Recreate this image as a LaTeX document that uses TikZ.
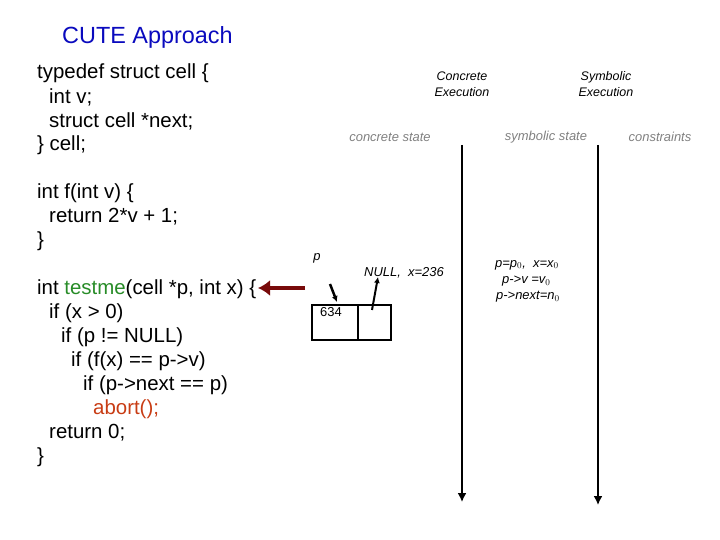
\documentclass[tikz,border=0pt]{standalone}
\usepackage{fontspec}
\setmainfont{Liberation Sans}
\usetikzlibrary{arrows.meta}
\definecolor{fnred}{RGB}{200,60,20}
\definecolor{fngreen}{RGB}{40,140,40}
\definecolor{arrred}{RGB}{120,10,10}
\definecolor{titleblue}{RGB}{10,10,190}
\begin{document}
\begin{tikzpicture}[x=1bp,y=-1bp,
    code/.style ={anchor=west, inner sep=0pt, font=\fontsize{20.5}{20}\selectfont},
    small/.style ={inner sep=0pt, font=\fontsize{13}{15}\selectfont\itshape, align=center},
    header/.style ={small, font=\fontsize{12.5}{16}\selectfont\itshape, align=center},
    state/.style ={small, gray},
    timeline/.style ={line width=1.6pt, -{Latex[length=9bp,width=9bp]}}]
   \useasboundingbox (0,0) rectangle (720,540);
   \node[anchor=west, inner sep=0pt, font=\fontsize{23.5}{23}\selectfont, titleblue] (title) at (62,37) {CUTE Approach};

   \node[code] (l1) at (37,73) {typedef struct cell \{};
   \node[code] (l2) at (49,97) {int v;};
   \node[code] (l3) at (49,121) {struct cell *next;};
   \node[code] (l4) at (37,145) {\} cell;};
   \node[code] (l5) at (37,193) {int f(int v) \{};
   \node[code] (l6) at (49,217) {return 2*v + 1;};
   \node[code] (l7) at (37,241) {\}};
   \node[code] (l8) at (37,289) {int \textcolor{fngreen}{testme}(cell *p, int x) \{};
   \node[code] (l9) at (49,313) {if (x > 0)};
   \node[code] (l10) at (61,337) {if (p != NULL)};
   \node[code] (l11) at (71,361) {if (f(x) == p->v)};
   \node[code] (l12) at (83,385) {if (p->next == p)};
   \node[code] (l13) at (93,409) {\textcolor{fnred}{abort();}};
   \node[code] (l14) at (49,433) {return 0;};
   \node[code] (l15) at (37,457) {\}};

   \node[header] (concexec) at (462,84) {Concrete\\Execution};
   \node[header] (symexec) at (606,84) {Symbolic\\Execution};
   \node[state] (concstate) at (390,137) {concrete state};
   \node[state] (symstate) at (546,137) {symbolic state};
   \node[state] (constr) at (660,137) {constraints};

   \coordinate (ctop) at (462,145);
   \coordinate (cbot) at (462,502);
   \coordinate (stop) at (598,145);
   \coordinate (sbot) at (598,505);
   \draw[timeline] (ctop) to (cbot);
   \draw[timeline] (stop) to (sbot);

   \node[draw, ultra thick, minimum width=46bp, minimum height=35bp, inner sep=0pt] (cellv) at (335,322.5) {};
   \node[draw, ultra thick, minimum width=33bp, minimum height=35bp, inner sep=0pt] (cellnext) at (374.5,322.5) {};
   \node[small, font=\fontsize{13}{13}\selectfont] (val) at (331,312) {634};
   \node[small] (pname) at (317,258) {p};
   \node[small] (nullx) at (404,273) {NULL,~ x=236};

   \coordinate (pstart) at (330,284);
   \coordinate (pend) at (337,302);
   \coordinate (nstart) at (372,310);
   \coordinate (nend) at (378,277);
   \draw[line width=2.5pt, -{Latex[length=6bp,width=6bp]}] (pstart) to (pend);
   \draw[line width=2pt, -{Latex[length=6bp,width=6bp]}] (nstart) to (nend);

   \coordinate (rstart) at (305,288);
   \coordinate (rend) at (258,288);
   \draw[arrred, line width=5pt, -{Latex[length=12bp,width=16bp]}] (rstart) to (rend);

   \node[small, anchor=west] (sym1) at (495,265) {p=p$_0$,~ x=x$_0$};
   \node[small, anchor=west] (sym2) at (502,281) {p->v =v$_0$};
   \node[small, anchor=west] (sym3) at (496,297) {p->next=n$_0$};
\end{tikzpicture}
\end{document}
